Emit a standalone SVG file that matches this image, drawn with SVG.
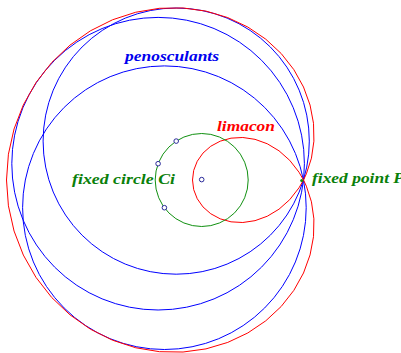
<svg xmlns="http://www.w3.org/2000/svg" width="401" height="353" viewBox="0 0 401 353">
<style>
.lbl{font-family:"Liberation Serif","DejaVu Serif",serif;font-style:italic;font-weight:bold;font-size:14px}
.blue{fill:none;stroke:#0000ff;stroke-width:1}
.pt{fill:#ffffff;stroke:#2a2a9a;stroke-width:1}
</style>
<rect width="401" height="353" fill="#ffffff"/>
<g id="penosculants">
<circle class="blue" cx="176.2" cy="141.1" r="133.1"/>
<circle class="blue" cx="158.1" cy="163.7" r="146.3"/>
<circle class="blue" cx="164.4" cy="207.7" r="141.8"/>
</g>
<g id="limacon">
<path fill="none" stroke="#ff0000" stroke-width="1" d="M303.5,180 L306.37,173.85 L311.45,158.17 L313.9,141.17 L313.5,123.29 L310.06,105.07 L303.5,87 L293.85,69.64 L281.2,53.53 L265.76,39.17 L247.83,27.05 L227.76,17.58 L206,11.12 L183.04,7.97 L159.43,8.31 L135.74,12.24 L112.55,19.77 L90.43,30.81 L69.96,45.17 L51.65,62.56 L35.97,82.63 L23.33,104.93 L14.06,128.96 L8.41,154.18 L6.5,180 L8.41,205.82 L14.06,231.04 L23.33,255.07 L35.97,277.37 L51.65,297.44 L69.96,314.83 L90.43,329.19 L112.55,340.23 L135.74,347.76 L159.43,351.69 L183.04,352.03 L206,348.88 L227.76,342.42 L247.83,332.95 L265.76,320.83 L281.2,306.47 L293.85,290.36 L303.5,273 L310.06,254.93 L313.5,236.71 L313.9,218.83 L311.45,201.83 L306.37,186.15 L303.5,180 L299,172.21 L289.73,160.33 L278.99,150.79 L267.26,143.76 L255.03,139.33 L242.79,137.49 L231.04,138.16 L220.22,141.17 L210.75,146.24 L202.99,153.07 L197.24,161.26 L193.7,170.39 L192.5,180 L193.7,189.61 L197.24,198.74 L202.99,206.93 L210.75,213.76 L220.22,218.83 L231.04,221.84 L242.79,222.51 L255.03,220.67 L267.26,216.24 L278.99,209.21 L289.73,199.67 L299,187.79 Z"/>
</g>
<g id="fixed-circle">
<circle cx="201.7" cy="180" r="46.5" fill="none" stroke="#109010" stroke-width="1"/>
</g>
<g id="points">
<circle class="pt" cx="201.7" cy="179.6" r="2.3"/>
<circle class="pt" cx="176.2" cy="141.1" r="2.3"/>
<circle class="pt" cx="158.1" cy="163.7" r="2.3"/>
<circle class="pt" cx="164.4" cy="207.7" r="2.3"/>
<circle cx="301.7" cy="180.5" r="1.5" fill="#109010"/>
</g>
<g id="labels">
<text class="lbl" x="125" y="61" fill="#0000ee" textLength="94" lengthAdjust="spacingAndGlyphs">penosculants</text>
<text class="lbl" x="217" y="131" fill="#ff0000" textLength="58" lengthAdjust="spacingAndGlyphs">limacon</text>
<text class="lbl" x="72" y="184" fill="#0a800a" textLength="103" lengthAdjust="spacingAndGlyphs">fixed circle Ci</text>
<text class="lbl" x="312" y="183" fill="#0a800a" textLength="92" lengthAdjust="spacingAndGlyphs">fixed point P</text>
</g>
</svg>
